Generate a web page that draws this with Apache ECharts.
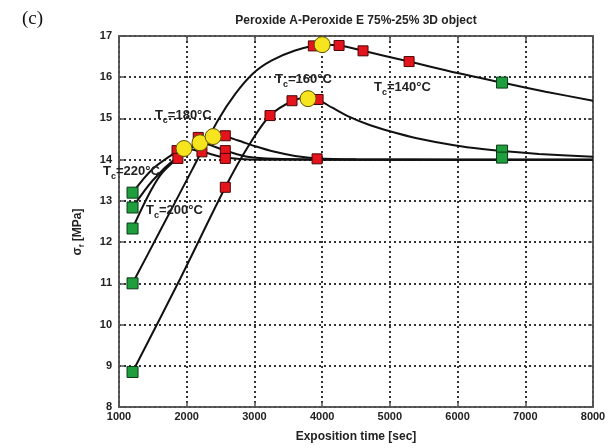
<!DOCTYPE html>
<html>
<head>
<meta charset="utf-8">
<script src="https://cdn.jsdelivr.net/npm/echarts@6/dist/echarts.min.js"></script>
<style>
html,body{margin:0;padding:0;background:#fff;}
#chart{width:609px;height:448px;}
</style>
</head>
<body>
<div id="chart"></div>
<script>
// ---- data ----
const xRange = [1000, 8000];
const yRange = [8, 17];
const xTickStep = 1000;
const yTickStep = 1;

const curveTc140 = [[1200,11.0],[1600,12.25],[2075,13.74],[2460,14.95],[2720,15.6],[2980,16.09],[3250,16.4],[3600,16.65],[4000,16.79],[4264,16.77],[4604,16.64],[5284,16.38],[6000,16.1],[6657,15.87],[7300,15.65],[8000,15.43]];
const curveTc160 = [[1200,8.85],[1900,11.1],[2570,13.33],[2900,14.3],[3230,15.07],[3570,15.43],[3792,15.50],[3940,15.45],[4150,15.26],[4412,15.03],[4700,14.84],[5000,14.69],[5397,14.52],[5800,14.39],[6136,14.30],[6657,14.21],[7200,14.14],[8000,14.07]];
const curveTc180 = [[1200,12.33],[1600,13.6],[2000,14.2],[2390,14.56],[2550,14.56],[2750,14.47],[3000,14.33],[3300,14.19],[3600,14.09],[3940,14.03],[4500,14.01],[6000,14.0],[8000,14.0]];
const curveTc200 = [[1200,12.84],[1500,13.5],[1870,14.08],[2196,14.41],[2570,14.22],[2900,14.07],[3300,14.02],[4500,14.0],[8000,14.0]];
const curveTc220 = [[1200,13.2],[1500,13.78],[1857,14.2],[1960,14.27],[2225,14.19],[2570,14.05],[3000,14.0],[4500,14.0],[8000,14.0]];

const greenPoints = [[1200,13.2],[1200,12.84],[1200,12.33],[1200,11.0],[1200,8.85],[6657,15.87],[6657,14.22],[6657,14.05]];
const redPoints = [[1857,14.22],[1870,14.03],[2225,14.19],[2170,14.54],[2570,14.58],[2570,14.22],[2570,14.03],[2570,13.33],
  [3230,15.07],[3555,15.43],[3940,15.46],[3925,14.02],[3870,16.76],[4250,16.77],[4604,16.64],[5284,16.38]];
const yellowPoints = [[1960,14.27],[2196,14.41],[2390,14.56],[3792,15.48],[4000,16.79]];

// label anchors: [x, y, temperature]
const curveLabels = [[764,13.72,'220'],[1400,12.77,'200'],[1530,15.07,'180'],[3305,15.94,'160'],[4767,15.75,'140']];

const titleText = 'Peroxide A-Peroxide E 75%-25% 3D object';
const xName = 'Exposition time [sec]';

// ---- chart ----
const chart = echarts.init(document.getElementById('chart'), null, {renderer:'canvas'});
const FONT = '"Liberation Sans", Arial, sans-serif';

function lineSeries(d){
  return {type:'line', data:d, smooth:0.3, showSymbol:false, symbol:'none',
    lineStyle:{color:'#111', width:2}, z:2, silent:true, animation:false};
}

const option = {
  animation:false,
  backgroundColor:'#fff',
  grid:{left:119, right:16, top:36, bottom:40, show:true, borderColor:'#555', borderWidth:1.5, backgroundColor:'#fff'},
  xAxis:[{
    type:'value', min:xRange[0], max:xRange[1], interval:xTickStep,
    name:xName, nameLocation:'middle', nameGap:24,
    nameTextStyle:{fontFamily:FONT, fontWeight:'bold', fontSize:12, color:'#222'},
    axisLine:{show:true, lineStyle:{color:'#555', width:1.5}},
    axisTick:{show:true, inside:true, length:5, lineStyle:{color:'#555', width:1.5}},
    axisLabel:{fontFamily:FONT, fontWeight:'bold', fontSize:11, color:'#222', margin:4, formatter:function(v){return String(v);}},
    splitLine:{show:true, lineStyle:{color:'#333', width:2, type:[2,3]}}
  },{
    type:'value', min:xRange[0], max:xRange[1], interval:xTickStep, position:'top',
    axisLine:{show:true, lineStyle:{color:'#555', width:1.5}},
    axisTick:{show:true, inside:true, length:5, lineStyle:{color:'#555', width:1.5}},
    axisLabel:{show:false}, splitLine:{show:false}
  }],
  yAxis:[{
    type:'value', min:yRange[0], max:yRange[1], interval:yTickStep,
    axisLine:{show:true, lineStyle:{color:'#555', width:1.5}},
    axisTick:{show:true, inside:true, length:5, lineStyle:{color:'#555', width:1.5}},
    axisLabel:{fontFamily:FONT, fontWeight:'bold', fontSize:11, color:'#222', margin:7},
    splitLine:{show:true, lineStyle:{color:'#333', width:2, type:[2,3]}}
  },{
    type:'value', min:yRange[0], max:yRange[1], interval:yTickStep, position:'right',
    axisLine:{show:true, lineStyle:{color:'#555', width:1.5}},
    axisTick:{show:true, inside:true, length:5, lineStyle:{color:'#555', width:1.5}},
    axisLabel:{show:false}, splitLine:{show:false}
  }],
  graphic:[
    {type:'text', left:22, top:10, style:{text:'(c)', font:'19px "Liberation Serif", "Times New Roman", serif', fill:'#111'}},
    {type:'text', x:356, y:21, style:{text:titleText, font:'bold 12px ' + FONT, fill:'#222', align:'center', verticalAlign:'middle'}},
    {type:'text', x:78, y:232, rotation:Math.PI/2, style:{
      text:'{a|σ}{b|f}{a| [MPa]}', align:'center', verticalAlign:'middle',
      rich:{a:{font:'bold 12px ' + FONT, fill:'#222'}, b:{font:'bold 8px ' + FONT, fill:'#222', padding:[8,0,0,0]}}
    }}
  ],
  series:[
    lineSeries(curveTc140),
    lineSeries(curveTc160),
    lineSeries(curveTc180),
    lineSeries(curveTc200),
    lineSeries(curveTc220),
    {type:'scatter', data:redPoints, symbol:'rect', symbolSize:10, z:3, silent:true,
      itemStyle:{color:'#e5141c', borderColor:'#4a0606', borderWidth:1, opacity:1}},
    {type:'scatter', data:greenPoints, symbol:'rect', symbolSize:11, z:3, silent:true,
      itemStyle:{color:'#1f9e3e', borderColor:'#0b3a16', borderWidth:1, opacity:1}},
    {type:'scatter', data:yellowPoints, symbol:'circle', symbolSize:16, z:4, silent:true,
      itemStyle:{color:'#f6e51e', borderColor:'#5c5000', borderWidth:1, opacity:1}},
    {type:'scatter', data:curveLabels, symbol:'circle', symbolSize:0, clip:false, z:5, silent:true,
      itemStyle:{color:'transparent'},
      label:{show:true, position:'right', distance:0, opacity:1,
        formatter:function(p){ return '{t|T}{s|c}{t|=' + p.data[2] + '°C}'; },
        rich:{t:{fontFamily:FONT, fontWeight:'bold', fontSize:13, color:'#222'},
              s:{fontFamily:FONT, fontWeight:'bold', fontSize:9, color:'#222', padding:[10,0,0,0]}}
      }}
  ]
};
chart.setOption(option);
</script>
</body>
</html>
